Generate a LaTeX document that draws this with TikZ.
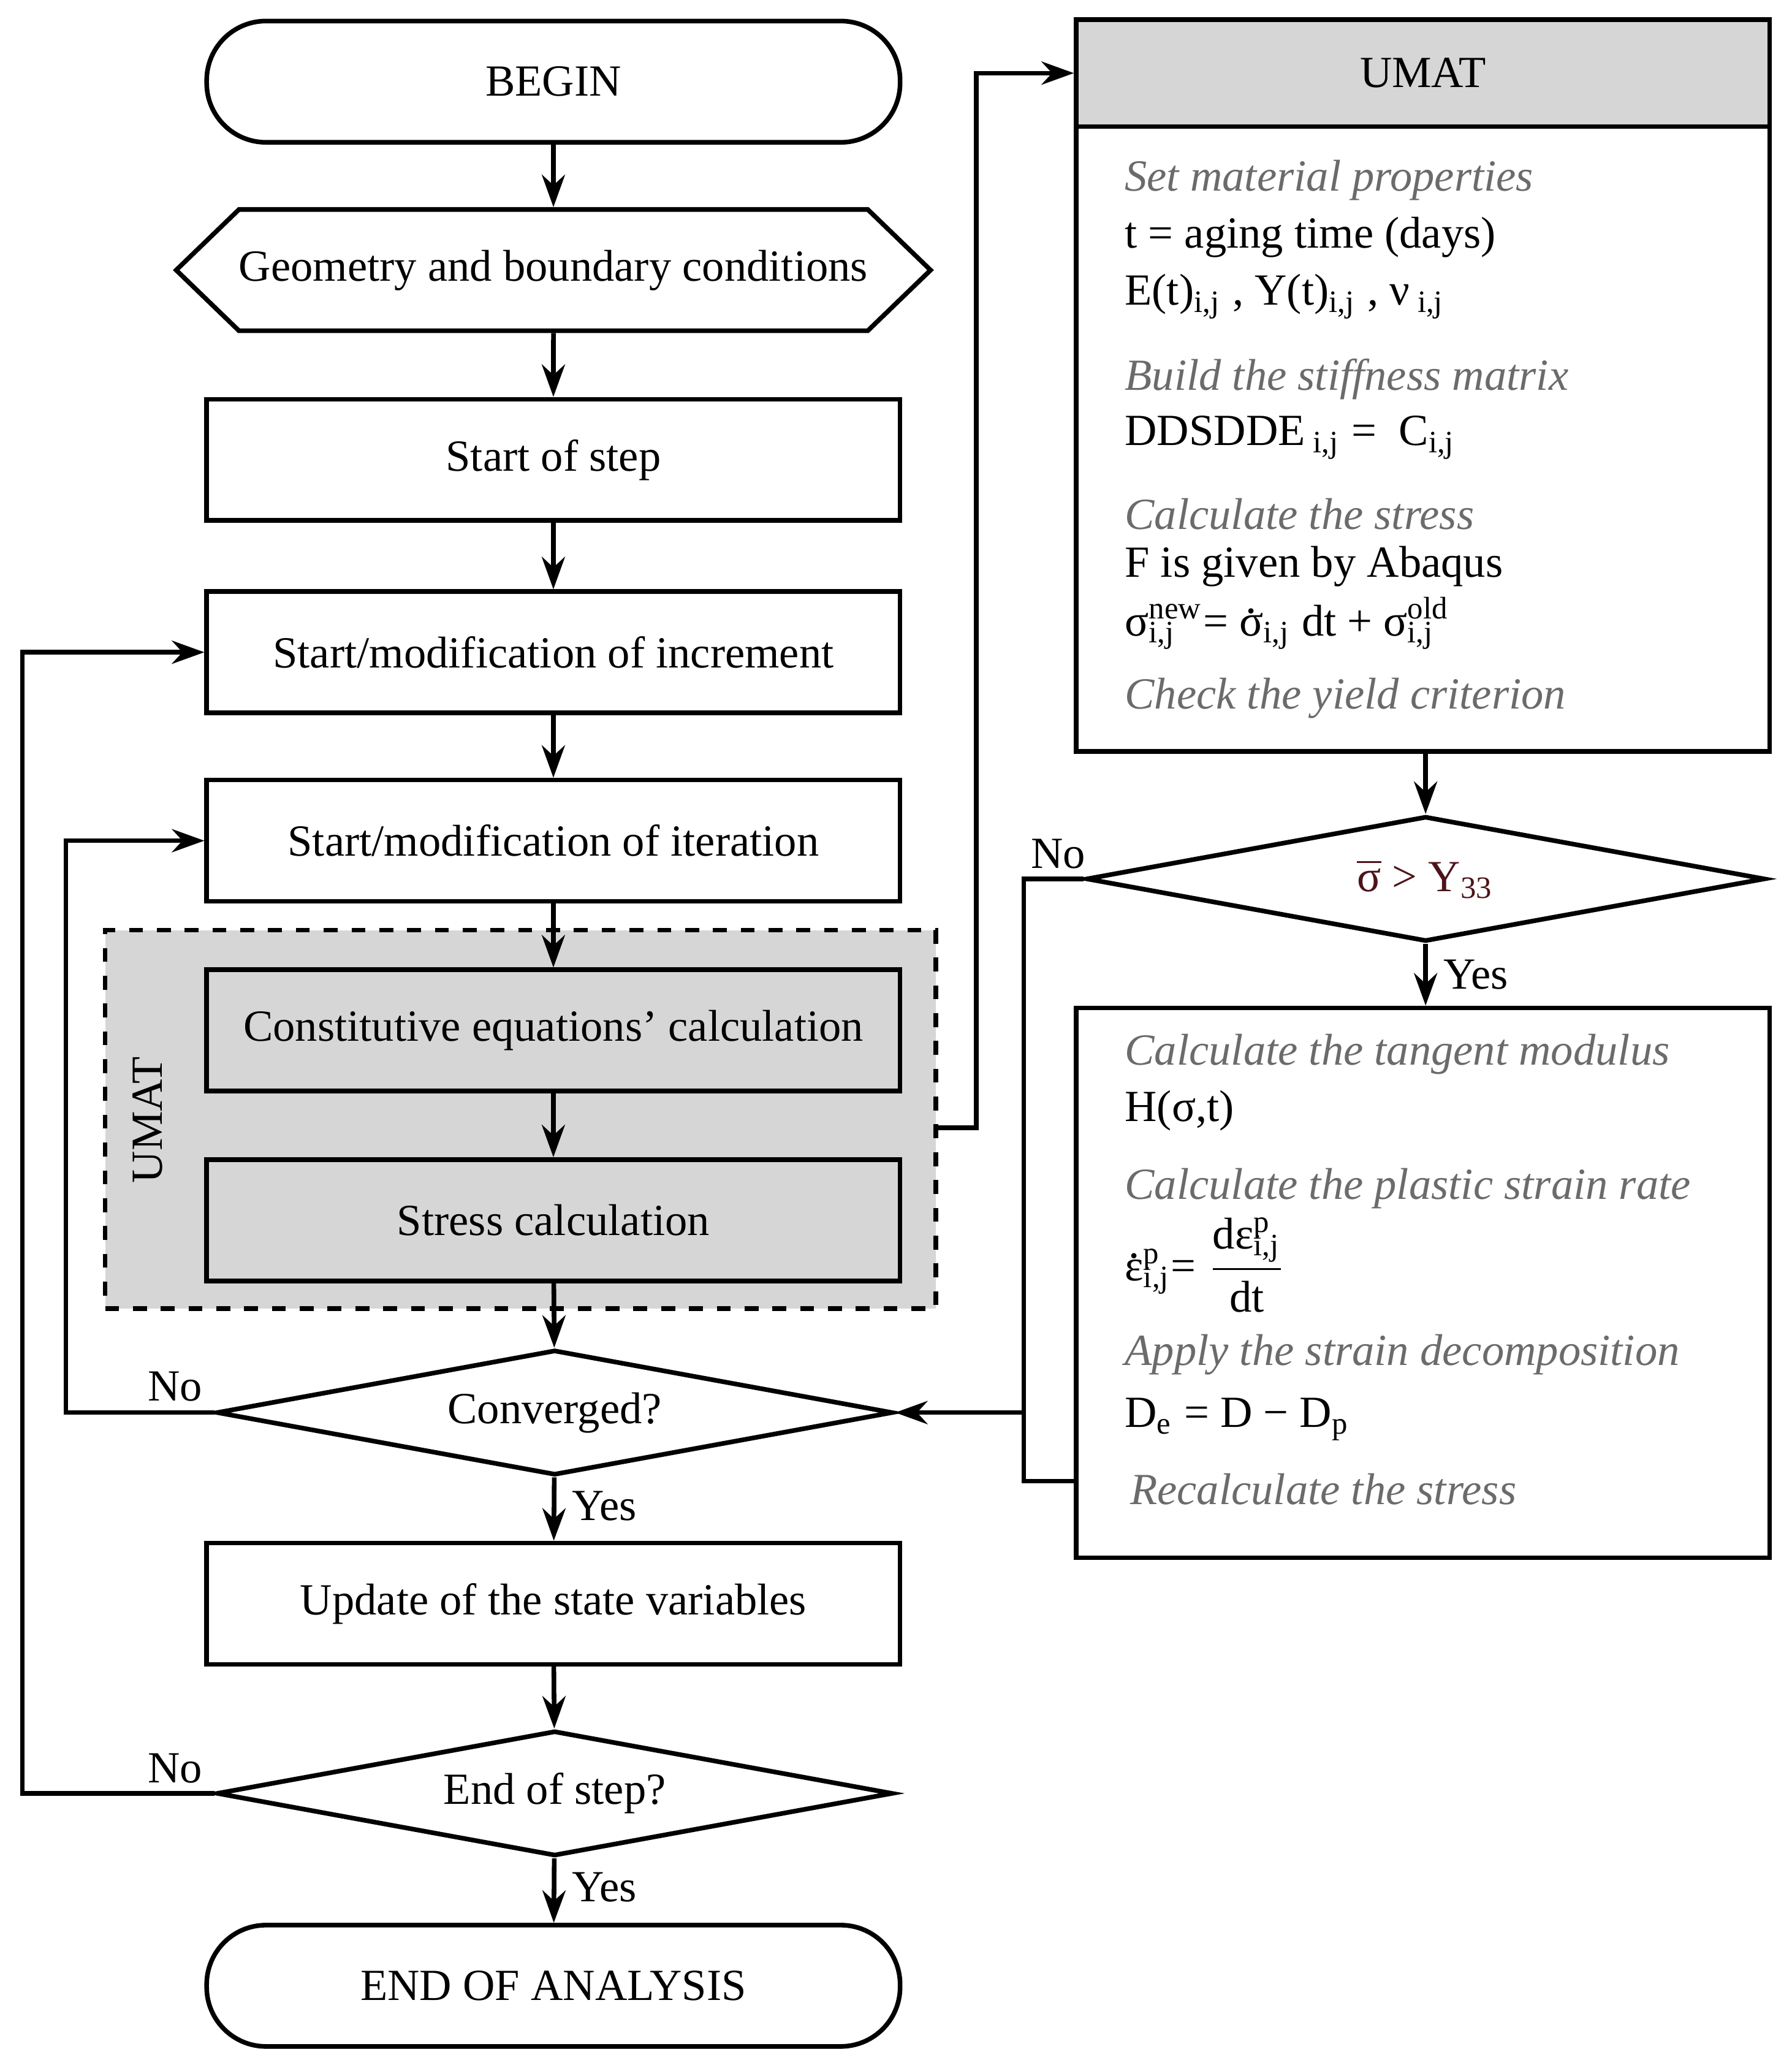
\documentclass[tikz,border=0pt]{standalone}
\usepackage{fontspec}
\setmainfont{Liberation Serif}
\usetikzlibrary{shapes.geometric,shapes.symbols,arrows.meta}
\definecolor{boxgray}{gray}{0.84}
\definecolor{txtgray}{gray}{0.42}
\definecolor{maroon}{rgb}{0.3,0.08,0.1}
\newcommand\supsub[2]{\setbox0\hbox{\textsuperscript{#1}}\setbox2\hbox{\textsubscript{#2}}\rlap{\textsuperscript{#1}}\textsubscript{#2}\ifdim\wd0>\wd2\kern\dimexpr\wd0-\wd2\relax\fi}
\newcommand\ovdot[1]{\ooalign{#1\cr\hidewidth\raisebox{0.5em}{.}\hidewidth\cr}}
\begin{document}
\begin{tikzpicture}[x=0.01cm,y=-0.01cm,line width=1pt,
  every node/.style={font=\fontsize{9.6}{11}\selectfont},
  box/.style={draw,minimum width=5.26cm,minimum height=0.92cm,inner sep=0},
  dia/.style={draw,diamond,minimum width=5.13cm,minimum height=0.95cm,inner sep=0,aspect=5.4},
  arr/.style={-{Stealth[length=7pt,width=5pt]}},
  gt/.style={anchor=west,text=txtgray,font=\fontsize{9.6}{11}\selectfont\itshape,inner sep=0},
  bt/.style={anchor=west,inner sep=0}]
\useasboundingbox (0,0) rectangle (1360,1555);
% dashed UMAT region
\node[draw,dashed,fill=boxgray,minimum width=6.3cm,minimum height=2.87cm,inner sep=0] (reg) at (395,849.5) {};
\node[rotate=90] (ulab) at (112,850) {UMAT};
\node[box,rounded corners=0.45cm] (begin) at (420,62) {BEGIN};
\node[draw,signal,signal to=west and east,signal pointer angle=88,minimum width=4.75cm,minimum height=0.92cm,inner sep=0] (geo) at (420,205) {Geometry and boundary conditions};
\node[box] (step) at (420,349) {Start of step};
\node[box] (inc) at (420,495) {Start/modification of increment};
\node[box] (iter) at (420,638) {Start/modification of iteration};
\node[box,fill=boxgray] (const) at (420,782) {Constitutive equations' calculation};
\node[box,fill=boxgray] (stress) at (420,926) {Stress calculation};
\node[dia] (conv) at (421,1072) {Converged?};
\node[box] (upd) at (420,1217) {Update of the state variables};
\node[dia] (eos) at (421,1361) {End of step?};
\node[box,rounded corners=0.45cm] (end) at (420,1507) {END OF ANALYSIS};
\draw[arr] (begin) -- (geo);
\draw[arr] (geo) -- (step);
\draw[arr] (step) -- (inc);
\draw[arr] (inc) -- (iter);
\draw[arr] (iter) -- (const);
\draw[arr] (const) -- (stress);
\draw[arr] (stress) -- (conv);
\draw[arr] (conv) -- node[right,pos=0.45]{Yes} (upd);
\draw[arr] (upd) -- (eos);
\draw[arr] (eos) -- node[right,pos=0.45]{Yes} (end);
\draw[arr] (conv.west) -- (50,1072) |- (iter.west);
\node at (133,1052) {No};
\draw[arr] (eos.west) -- (17,1361) |- (inc.west);
\node at (133,1342) {No};
% right side
\node[draw,minimum width=5.26cm,minimum height=5.55cm,inner sep=0] (umat) at (1080,292.5) {};
\node[draw,fill=boxgray,minimum width=5.26cm,minimum height=0.81cm,inner sep=0] (uhead) at (1080,55.5) {UMAT};
\draw[arr] (reg.east |- 0,856) -- (741,856) |- (uhead.west);
\node[gt] (t1) at (852,137) {Set material properties};
\node[bt] (t2) at (852,180) {t = aging time (days)};
\node[bt] (t3) at (852,225) {E(t)\textsubscript{i,j} , Y(t)\textsubscript{i,j} , ν\textsubscript{ i,j}};
\node[gt] (t4) at (852,288) {Build the stiffness matrix};
\node[bt] (t5) at (852,332) {DDSDDE\textsubscript{ i,j} =\ \ C\textsubscript{i,j}};
\node[gt] (t6) at (852,390) {Calculate the stress};
\node[bt] (t7) at (852,430) {F is given by Abaqus};
\node[bt] (t8) at (852,473) {σ\supsub{new}{i,j}= \ovdot{σ}\textsubscript{i,j} dt + σ\supsub{old}{i,j}};
\node[gt] (t9) at (852,530) {Check the yield criterion};
\node[dia,minimum width=5.15cm] (yld) at (1082,667) {\textcolor{maroon}{$\overline{\hbox{σ}}$ > Y\textsubscript{33}}};
\draw[arr] (umat.south -| yld) -- (yld);
\node[draw,minimum width=5.26cm,minimum height=4.17cm,inner sep=0] (low) at (1080,973.5) {};
\draw[arr] (yld) -- node[right]{Yes} (low.north -| yld);
\node at (803,648) {No};
\draw[arr] (yld.west) -- (777,667) -- (777,1072) -- (conv.east);
\draw (low.west |- 0,1124) -- (777,1124) -- (777,1072);
\node[gt] (l1) at (852,800) {Calculate the tangent modulus};
\node[bt] (l2) at (852,843) {H(σ,t)};
\node[gt] (l3) at (852,902) {Calculate the plastic strain rate};
\node[bt] (l4) at (852,960) {\ovdot{ε}\supsub{p}{i,j}= $\displaystyle\frac{\hbox{dε\supsub{p}{i,j}}}{\hbox{dt}}$};
\node[gt] (l5) at (852,1028) {Apply the strain decomposition};
\node[bt] (l6) at (852,1077) {D\textsubscript{e} = D − D\textsubscript{p}};
\node[gt] (l7) at (856,1130) {Recalculate the stress};
\end{tikzpicture}
\end{document}
